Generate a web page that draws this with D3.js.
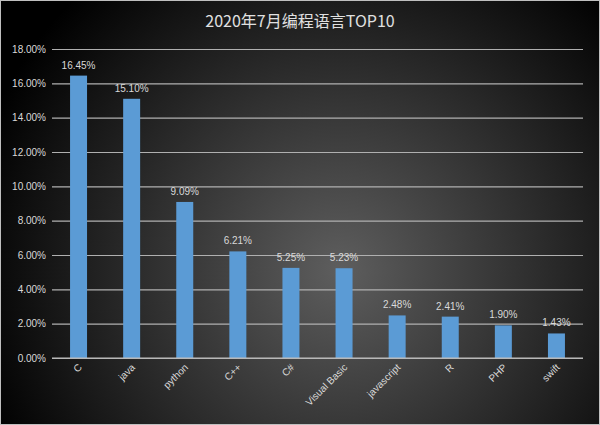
<!DOCTYPE html>
<html><head><meta charset="utf-8">
<script src="https://cdn.jsdelivr.net/npm/d3@7"></script>
<style>body{margin:0;background:#000}svg{display:block}</style>
</head><body>
<script>
const categories = ["C","java","python","C++","C#","Visual Basic","javascript","R","PHP","swift"];
const values = [16.45,15.10,9.09,6.21,5.25,5.23,2.48,2.41,1.90,1.43];
const yTicks = [0,2,4,6,8,10,12,14,16,18];
const title = "2020年7月编程语言TOP10";

const W=600,H=425;
const svg=d3.select("body").append("svg").attr("width",W).attr("height",H);
const defs=svg.append("defs");
const rg=defs.append("radialGradient").attr("id","bg").attr("gradientUnits","userSpaceOnUse")
  .attr("cx",340).attr("cy",270).attr("r",380);
rg.append("stop").attr("offset","0%").attr("stop-color","#5e5e5e");
rg.append("stop").attr("offset","100%").attr("stop-color","#000000");
svg.append("rect").attr("x",0.5).attr("y",0.5).attr("width",W-1).attr("height",H-1)
  .attr("fill","url(#bg)").attr("stroke","#bfbfbf").attr("stroke-width",1);

const m={l:52,r:17,t:49,b:67};
const x=d3.scaleBand().domain(categories).range([m.l,W-m.r]).paddingInner(0.68).paddingOuter(0.34);
const y=d3.scaleLinear().domain([0,18]).range([H-m.b,m.t]);
const font="'Liberation Sans', Arial, sans-serif";

svg.append("text").attr("x",W/2).attr("y",27).attr("text-anchor","middle")
  .attr("fill","#e0e0e0").attr("font-size",16).attr("font-family","'Noto Sans CJK SC', sans-serif").text(title);

const ya=svg.append("g").attr("transform",`translate(${m.l},0)`)
  .call(d3.axisLeft(y).tickValues(yTicks).tickFormat(d=>d.toFixed(2)+"%").tickSize(-(W-m.l-m.r)).tickPadding(6));
ya.select(".domain").remove();
ya.selectAll(".tick line").attr("stroke","#b0b0b0").attr("stroke-width",1.2);
ya.selectAll(".tick text").attr("fill","#d9d9d9").attr("font-size",10).attr("font-family",font);

svg.selectAll("rect.bar").data(values).join("rect").attr("class","bar")
  .attr("x",(d,i)=>x(categories[i])).attr("width",x.bandwidth())
  .attr("y",d=>y(d)).attr("height",d=>y(0)-y(d)).attr("fill","#5b9bd5");

svg.append("line").attr("x1",m.l).attr("x2",W-m.r).attr("y1",y(0)).attr("y2",y(0))
  .attr("stroke","#bfbfbf").attr("stroke-width",1.2);

svg.selectAll("text.lbl").data(values).join("text").attr("class","lbl")
  .attr("x",(d,i)=>x(categories[i])+x.bandwidth()/2).attr("y",d=>y(d)-7)
  .attr("text-anchor","middle").attr("fill","#d9d9d9").attr("font-size",10).attr("font-family",font)
  .text(d=>d.toFixed(2)+"%");

const xa=svg.append("g").attr("transform",`translate(0,${y(0)})`)
  .call(d3.axisBottom(x).tickSize(0).tickPadding(0));
xa.select(".domain").remove();
xa.selectAll(".tick text").attr("fill","#d9d9d9").attr("font-size",10).attr("font-family",font)
  .attr("text-anchor","end").attr("dy",0).attr("transform","translate(4,10) rotate(-45)");
</script>
</body></html>
